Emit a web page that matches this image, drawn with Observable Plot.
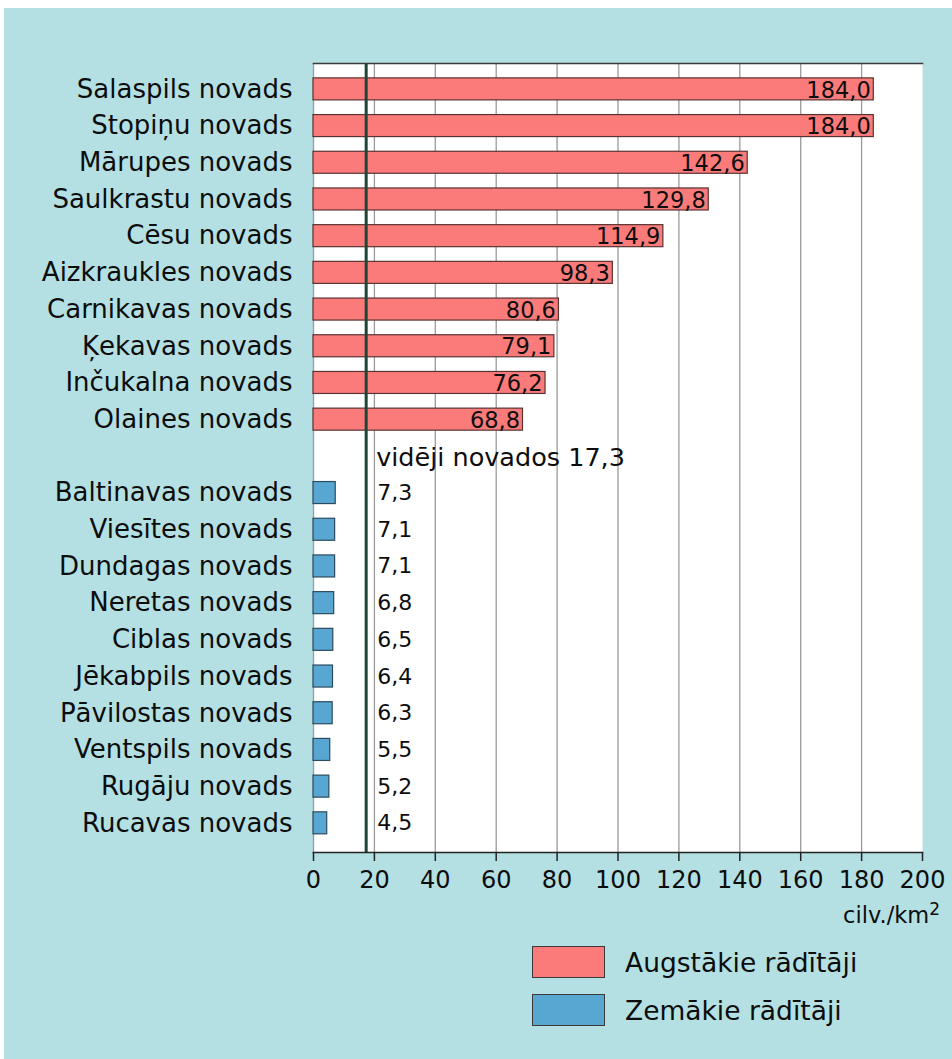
<!DOCTYPE html>
<html>
<head>
<meta charset="utf-8">
<script src="https://cdn.jsdelivr.net/npm/d3@7"></script>
<script src="https://cdn.jsdelivr.net/npm/@observablehq/plot@0.6"></script>
<style>
  body { margin: 0; background: #ffffff; }
  #wrap { position: relative; width: 952px; height: 1059px; overflow: hidden; font-family: "DejaVu Sans", sans-serif; color: #0d0d0d; }
  #bg { position: absolute; left: 4px; top: 8px; right: 0; bottom: 0; background: #b4e0e3; }
  #chart { position: absolute; left: 0; top: 0; }
  .leg { position: absolute; left: 532px; display: flex; align-items: center; font-size: 26.5px; }
  .sw { width: 71px; height: 30px; border: 1.5px solid #3a3a3a; margin-right: 20px; }
  #unit { position: absolute; right: 12px; top: 902px; font-size: 22.5px; }
  #unit sup { font-size: 17px; vertical-align: 8px; line-height: 0; }
</style>
</head>
<body>
<div id="wrap">
  <div id="bg"></div>
  <div id="chart"></div>
  <div id="unit"></div>
  <div id="legend"></div>
</div>
<script>
// ---- data ----
const highNames = ["Salaspils novads", "Stopiņu novads", "Mārupes novads", "Saulkrastu novads", "Cēsu novads",
  "Aizkraukles novads", "Carnikavas novads", "Ķekavas novads", "Inčukalna novads", "Olaines novads"];
const highValues = [184.0, 184.0, 142.6, 129.8, 114.9, 98.3, 80.6, 79.1, 76.2, 68.8];
const lowNames = ["Baltinavas novads", "Viesītes novads", "Dundagas novads", "Neretas novads", "Ciblas novads",
  "Jēkabpils novads", "Pāvilostas novads", "Ventspils novads", "Rugāju novads", "Rucavas novads"];
const lowValues = [7.3, 7.1, 7.1, 6.8, 6.5, 6.4, 6.3, 5.5, 5.2, 4.5];
const average = 17.3;
const averageLabel = "vidēji novados 17,3";
const xTicks = [0, 20, 40, 60, 80, 100, 120, 140, 160, 180, 200];
const unitText = "cilv./km";
const unitSup = "2";
const legendLabels = ["Augstākie rādītāji", "Zemākie rādītāji"];
const colors = { high: "#fa7b79", low: "#58a7d3" };
const gapKey = " ";

// ---- build table ----
const fmt = v => d3.format(".1f")(v).replace(".", ",");
const high = highNames.map((name, i) => ({ name, value: highValues[i], group: "high" }));
const low = lowNames.map((name, i) => ({ name, value: lowValues[i], group: "low" }));
const rows = [...high, ...low];
const yDomain = [...highNames, gapKey, ...lowNames];

const chart = Plot.plot({
  width: 952,
  height: 900,
  marginLeft: 313,
  marginRight: 30,
  marginTop: 63,
  marginBottom: 48,
  style: { background: "transparent", fontFamily: "DejaVu Sans, sans-serif", color: "#0d0d0d" },
  x: { domain: [0, 200], ticks: xTicks },
  y: { domain: yDomain, paddingInner: 0.4, paddingOuter: 0.45, align: 0.45, round: false },
  marks: [
    Plot.frame({ fill: "white", stroke: "none" }),
    Plot.ruleX(xTicks.slice(0, -1), { stroke: "#9a9a9a", strokeWidth: 1.3 }),
    Plot.barX(rows, {
      x: "value", y: "name",
      fill: d => colors[d.group],
      stroke: d => d.group === "high" ? "#5a3232" : "#2c4a5e",
      strokeWidth: 1.2
    }),
    Plot.ruleX([average], { stroke: "#1e4637", strokeWidth: 3 }),
    Plot.text(high, {
      x: "value", y: "name", text: d => fmt(d.value),
      textAnchor: "end", dx: -3, dy: 1, fontSize: 22.5, fill: "#0d0d0d"
    }),
    Plot.text(low, {
      x: () => average, y: "name", text: d => fmt(d.value),
      textAnchor: "start", dx: 11, fontSize: 22, fill: "#0d0d0d"
    }),
    Plot.text([averageLabel], {
      x: () => average, y: () => gapKey, text: d => d,
      textAnchor: "start", dx: 10, dy: 1, fontSize: 25.5, fill: "#0d0d0d"
    }),
    Plot.frame({ anchor: "top", stroke: "#3a3a3a", strokeWidth: 1.6 }),
    Plot.frame({ anchor: "bottom", stroke: "#222", strokeWidth: 1.6 }),
    Plot.axisX({
      ticks: xTicks, tickSize: 9, tickPadding: 9, fontSize: 24,
      tickFormat: d => String(d), label: null, stroke: "#222", strokeWidth: 1.5
    }),
    Plot.axisY({ tickSize: 0, tickPadding: 21, fontSize: 26, tickFormat: d => d.trim(), label: null })
  ]
});
document.getElementById("chart").appendChild(chart);

const unit = document.getElementById("unit");
unit.textContent = unitText;
const sup = document.createElement("sup");
sup.textContent = unitSup;
unit.appendChild(sup);

const legend = document.getElementById("legend");
[["high", 946], ["low", 994]].forEach(([g, top], i) => {
  const row = document.createElement("div");
  row.className = "leg";
  row.style.top = top + "px";
  const sw = document.createElement("div");
  sw.className = "sw";
  sw.style.background = colors[g];
  const t = document.createElement("span");
  t.textContent = legendLabels[i];
  row.appendChild(sw); row.appendChild(t);
  legend.appendChild(row);
});
</script>
</body>
</html>
